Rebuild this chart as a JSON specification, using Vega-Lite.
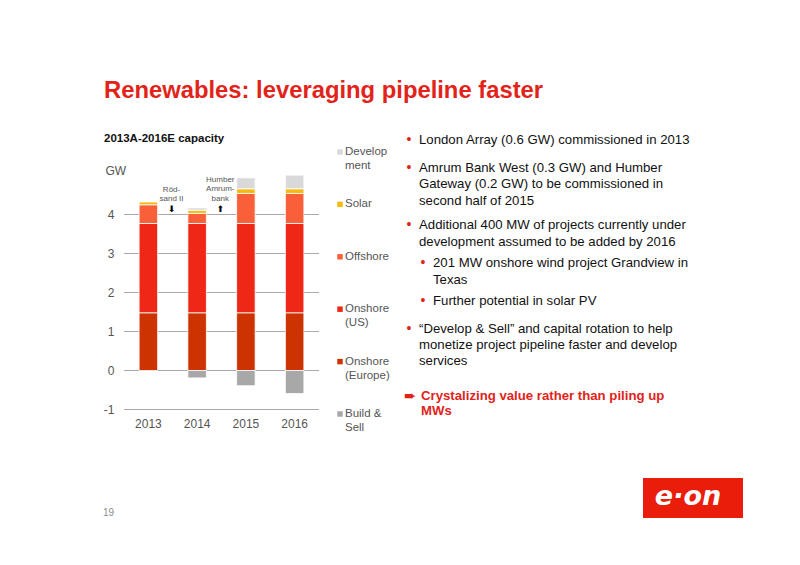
{
  "$schema": "https://vega.github.io/schema/vega-lite/v6.json",
  "width": 800,
  "height": 565,
  "padding": 0,
  "autosize": {"type": "none"},
  "background": "white",
  "view": {"stroke": null},
  "config": {"font": "Liberation Sans", "view": {"stroke": null}},
  "title": {
    "text": "Renewables: leveraging pipeline faster",
    "subtitle": "2013A-2016E capacity",
    "anchor": "start",
    "frame": "group",
    "dx": 104,
    "dy": 148,
    "font": "Liberation Sans",
    "fontSize": 23.8,
    "fontWeight": "bold",
    "color": "#e2231a",
    "subtitleFont": "Liberation Sans",
    "subtitleFontSize": 11.5,
    "subtitleFontWeight": "bold",
    "subtitleColor": "#111111",
    "subtitlePadding": 30
  },
  "datasets": {
    "capacity": [
      {"year": "2013", "series": "Onshore (Europe)", "gw": 1.48, "stackOrder": 1},
      {"year": "2013", "series": "Onshore (US)", "gw": 2.29, "stackOrder": 2},
      {"year": "2013", "series": "Offshore", "gw": 0.48, "stackOrder": 3},
      {"year": "2013", "series": "Solar", "gw": 0.07, "stackOrder": 4},
      {"year": "2014", "series": "Onshore (Europe)", "gw": 1.48, "stackOrder": 1},
      {"year": "2014", "series": "Onshore (US)", "gw": 2.29, "stackOrder": 2},
      {"year": "2014", "series": "Offshore", "gw": 0.26, "stackOrder": 3},
      {"year": "2014", "series": "Solar", "gw": 0.08, "stackOrder": 4},
      {"year": "2014", "series": "Development", "gw": 0.06, "stackOrder": 5},
      {"year": "2014", "series": "Build & Sell", "gw": -0.19, "stackOrder": 0},
      {"year": "2015", "series": "Onshore (Europe)", "gw": 1.48, "stackOrder": 1},
      {"year": "2015", "series": "Onshore (US)", "gw": 2.29, "stackOrder": 2},
      {"year": "2015", "series": "Offshore", "gw": 0.77, "stackOrder": 3},
      {"year": "2015", "series": "Solar", "gw": 0.12, "stackOrder": 4},
      {"year": "2015", "series": "Development", "gw": 0.28, "stackOrder": 5},
      {"year": "2015", "series": "Build & Sell", "gw": -0.39, "stackOrder": 0},
      {"year": "2016", "series": "Onshore (Europe)", "gw": 1.48, "stackOrder": 1},
      {"year": "2016", "series": "Onshore (US)", "gw": 2.29, "stackOrder": 2},
      {"year": "2016", "series": "Offshore", "gw": 0.77, "stackOrder": 3},
      {"year": "2016", "series": "Solar", "gw": 0.12, "stackOrder": 4},
      {"year": "2016", "series": "Development", "gw": 0.35, "stackOrder": 5},
      {"year": "2016", "series": "Build & Sell", "gw": -0.59, "stackOrder": 0}
    ],
    "legendRows": [
      {"series": "Development", "label": "Develop|ment"},
      {"series": "Solar", "label": "Solar"},
      {"series": "Offshore", "label": "Offshore"},
      {"series": "Onshore (US)", "label": "Onshore|(US)"},
      {"series": "Onshore (Europe)", "label": "Onshore|(Europe)"},
      {"series": "Build & Sell", "label": "Build &|Sell"}
    ],
    "body": [
      {"line": 0, "level": 0, "bullet": true, "text": "London Array (0.6 GW) commissioned in 2013"},
      {"line": 1.7, "level": 0, "bullet": true, "text": "Amrum Bank West (0.3 GW) and Humber"},
      {"line": 2.7, "level": 0, "bullet": false, "text": "Gateway (0.2 GW) to be commissioned in"},
      {"line": 3.7, "level": 0, "bullet": false, "text": "second half of 2015"},
      {"line": 5.2, "level": 0, "bullet": true, "text": "Additional 400 MW of projects currently under"},
      {"line": 6.2, "level": 0, "bullet": false, "text": "development assumed to be added by 2016"},
      {"line": 7.5, "level": 1, "bullet": true, "text": "201 MW onshore wind project Grandview in"},
      {"line": 8.55, "level": 1, "bullet": false, "text": "Texas"},
      {"line": 9.8, "level": 1, "bullet": true, "text": "Further potential in solar PV"},
      {"line": 11.5, "level": 0, "bullet": true, "text": "“Develop & Sell” and capital rotation to help"},
      {"line": 12.5, "level": 0, "bullet": false, "text": "monetize project pipeline faster and develop"},
      {"line": 13.5, "level": 0, "bullet": false, "text": "services"}
    ],
    "conclusion": [
      {"line": 15.6, "level": 0, "text": "Crystalizing value rather than piling up"},
      {"line": 16.5, "level": 0, "text": "MWs"}
    ]
  },
  "resolve": {"scale": {"x": "independent", "y": "independent"}, "axis": {"x": "independent", "y": "independent"}},
  "layer": [
    {
      "resolve": {"axis": {"x": "independent", "y": "independent"}},
      "layer": [
        {
          "data": {"values": [{"tick": -1}, {"tick": 0}, {"tick": 1}, {"tick": 2}, {"tick": 3}, {"tick": 4}]},
          "mark": {"type": "rule", "color": "#a9a9a9", "strokeWidth": 1.2},
          "encoding": {
            "y": {"field": "tick", "type": "quantitative", "scale": {"domain": [-1, 4], "range": [409.5, 214.5], "nice": false, "zero": false}, "axis": null},
            "x": {"value": 124},
            "x2": {"value": 319}
          }
        },
        {
          "data": {"name": "capacity"},
          "mark": {"type": "bar", "stroke": "#ffffff", "strokeWidth": 0.8, "clip": false},
          "encoding": {
            "x": {
              "field": "year",
              "type": "ordinal",
              "title": null,
              "scale": {"range": [124, 319], "paddingInner": 0.62, "paddingOuter": 0.31},
              "axis": {"orient": "bottom", "offset": -153, "domain": false, "ticks": false, "labelAngle": 0, "labelFontSize": 12, "labelColor": "#555555", "labelPadding": 6, "grid": false}
            },
            "y": {
              "field": "gw",
              "type": "quantitative",
              "title": "GW",
              "stack": "zero",
              "scale": {"domain": [-1, 4], "range": [409.5, 214.5], "nice": false, "zero": false},
              "axis": {"orient": "left", "offset": -124, "values": [-1, 0, 1, 2, 3, 4], "labelExpr": "'' + datum.value", "domain": false, "ticks": false, "grid": false, "labelFontSize": 12, "labelColor": "#555555", "labelPadding": 10, "titleFontSize": 12, "titleFontWeight": "normal", "titleColor": "#555555", "titleAngle": 0, "titleX": -19, "titleY": 170, "titleAlign": "left", "titleBaseline": "middle"}
            },
            "color": {
              "field": "series",
              "type": "nominal",
              "legend": null,
              "scale": {
                "domain": ["Development", "Solar", "Offshore", "Onshore (US)", "Onshore (Europe)", "Build & Sell"],
                "range": ["#d9d9d9", "#f6b90f", "#f9603a", "#ee2716", "#cc3300", "#a8a8a8"]
              }
            },
            "order": {"field": "stackOrder", "type": "quantitative"}
          }
        },
        {
          "data": {"values": [
            {"year": "2013", "gw": 4.63, "note": "Röd-|sand II"},
            {"year": "2014", "gw": 4.88, "note": "Humber|Amrum-|bank"}
          ]},
          "transform": [{"calculate": "split(datum.note, '|')", "as": "noteLines"}],
          "mark": {"type": "text", "fontSize": 8, "color": "#555555", "lineHeight": 9.2, "baseline": "middle", "align": "center"},
          "encoding": {
            "x": {"field": "year", "type": "ordinal", "bandPosition": 1.75, "axis": null},
            "y": {"field": "gw", "type": "quantitative", "axis": null},
            "text": {"field": "noteLines"}
          }
        },
        {
          "data": {"values": [
            {"year": "2013", "gw": 4.15, "arrow": "⬇"},
            {"year": "2014", "gw": 4.15, "arrow": "⬆"}
          ]},
          "mark": {"type": "text", "font": "DejaVu Sans", "fontSize": 9, "color": "#000000", "baseline": "middle", "align": "center"},
          "encoding": {
            "x": {"field": "year", "type": "ordinal", "bandPosition": 1.75, "axis": null},
            "y": {"field": "gw", "type": "quantitative", "axis": null},
            "text": {"field": "arrow"}
          }
        }
      ]
    },
    {
      "data": {"name": "legendRows"},
      "transform": [{"calculate": "split(datum.label, '|')", "as": "labelLines"}],
      "layer": [
        {
          "mark": {"type": "square", "size": 30, "opacity": 1},
          "encoding": {
            "x": {"value": 340},
            "y": {"field": "series", "type": "nominal", "sort": null, "scale": {"type": "point", "range": [152, 414], "padding": 0}, "axis": null},
            "color": {"field": "series", "type": "nominal", "legend": null}
          }
        },
        {
          "mark": {"type": "text", "fontSize": 11.5, "color": "#555555", "align": "left", "baseline": "middle", "lineHeight": 14},
          "encoding": {
            "x": {"value": 345},
            "y": {"field": "series", "type": "nominal", "sort": null, "scale": {"type": "point", "range": [152, 414], "padding": 0}, "axis": null},
            "text": {"field": "labelLines"}
          }
        }
      ]
    },
    {
      "data": {"name": "body"},
      "layer": [
        {
          "mark": {"type": "text", "fontSize": 13.2, "color": "#111111", "align": "left", "baseline": "middle"},
          "encoding": {
            "x": {"field": "level", "type": "quantitative", "scale": {"domain": [0, 1], "range": [419, 433]}, "axis": null},
            "y": {"field": "line", "type": "quantitative", "scale": {"domain": [0, 17], "range": [140, 418.8], "zero": false, "nice": false}, "axis": null},
            "text": {"field": "text"}
          }
        },
        {
          "transform": [{"filter": "datum.bullet"}],
          "mark": {"type": "text", "fontSize": 14, "color": "#e2231a", "align": "center", "baseline": "middle", "dx": -10, "text": "•"},
          "encoding": {
            "x": {"field": "level", "type": "quantitative", "scale": {"domain": [0, 1], "range": [419, 433]}, "axis": null},
            "y": {"field": "line", "type": "quantitative", "scale": {"domain": [0, 17], "range": [140, 418.8], "zero": false, "nice": false}, "axis": null}
          }
        }
      ]
    },
    {
      "data": {"name": "conclusion"},
      "mark": {"type": "text", "fontSize": 13.2, "fontWeight": "bold", "color": "#e2231a", "align": "left", "baseline": "middle", "dx": 2},
      "encoding": {
        "x": {"field": "level", "type": "quantitative", "scale": {"domain": [0, 1], "range": [419, 433]}, "axis": null},
        "y": {"field": "line", "type": "quantitative", "scale": {"domain": [0, 17], "range": [140, 418.8], "zero": false, "nice": false}, "axis": null},
        "text": {"field": "text"}
      }
    },
    {
      "data": {"values": [{"symbol": "➨"}]},
      "mark": {"type": "text", "font": "DejaVu Sans", "fontSize": 15, "fontWeight": "bold", "color": "#e2231a", "align": "left", "baseline": "middle"},
      "encoding": {"x": {"value": 404}, "y": {"value": 396}, "text": {"field": "symbol"}}
    },
    {
      "data": {"values": [{"page": "19"}]},
      "mark": {"type": "text", "fontSize": 10, "color": "#8c8c8c", "align": "left", "baseline": "middle", "letterSpacing": 1},
      "encoding": {"x": {"value": 103}, "y": {"value": 513}, "text": {"field": "page"}}
    },
    {
      "data": {"values": [{"logo": "e·on"}]},
      "layer": [
        {
          "mark": {"type": "rect", "color": "#ea1c0a"},
          "encoding": {"x": {"value": 643}, "x2": {"value": 743}, "y": {"value": 478}, "y2": {"value": 518}}
        },
        {
          "mark": {"type": "text", "font": "DejaVu Sans", "fontSize": 27, "fontWeight": "bold", "fontStyle": "italic", "color": "#ffffff", "align": "center", "baseline": "middle"},
          "encoding": {"x": {"value": 688}, "y": {"value": 497}, "text": {"field": "logo"}}
        }
      ]
    }
  ]
}
